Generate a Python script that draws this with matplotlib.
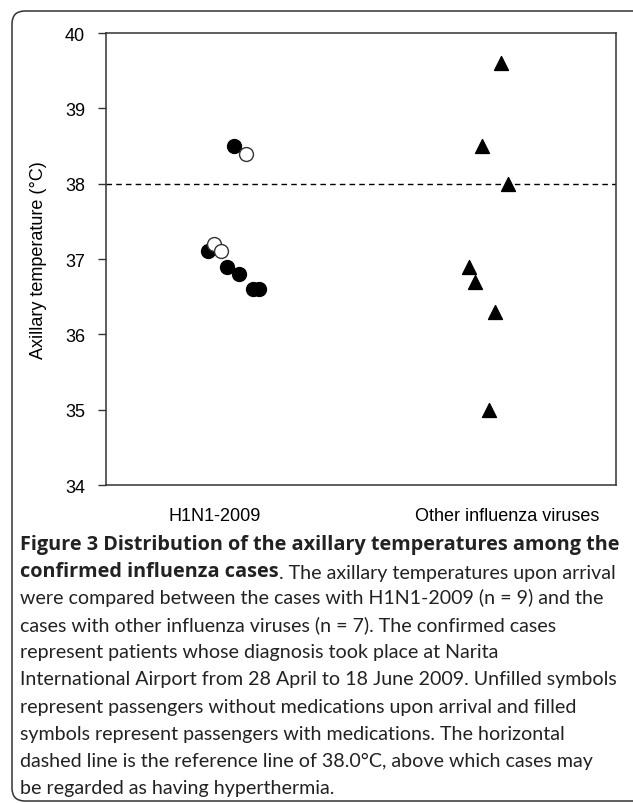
import matplotlib.pyplot as plt
from matplotlib.patches import FancyBboxPatch

# categories on the x axis
groups = ["H1N1-2009", "Other influenza viruses"]

# H1N1-2009, filled = with medications, open = without
h1_filled_x = [0.065, -0.023, 0.044, 0.085, 0.130, 0.153]
h1_filled_y = [38.5, 37.1, 36.9, 36.8, 36.6, 36.6]
h1_open_x = [0.108, -0.001, 0.022]
h1_open_y = [38.4, 37.2, 37.1]

# other influenza viruses (all filled triangles)
other_x = [-0.022, -0.086, 0.000, -0.132, -0.112, -0.044, -0.064]
other_y = [39.6, 38.5, 38.0, 36.9, 36.7, 36.3, 35.0]

threshold = 38.0
yticks = [34, 35, 36, 37, 38, 39, 40]

caption_bold = ["Figure 3 Distribution of the axillary temperatures among the",
                "confirmed influenza cases"]
caption_rest = [
    ". The axillary temperatures upon arrival",
    "were compared between the cases with H1N1-2009 (n = 9) and the",
    "cases with other influenza viruses (n = 7). The confirmed cases",
    "represent patients whose diagnosis took place at Narita",
    "International Airport from 28 April to 18 June 2009. Unfilled symbols",
    "represent passengers without medications upon arrival and filled",
    "symbols represent passengers with medications. The horizontal",
    "dashed line is the reference line of 38.0\u00b0C, above which cases may",
    "be regarded as having hyperthermia.",
]

plt.rcParams["font.family"] = ["Liberation Sans", "DejaVu Sans"]

fig = plt.figure(figsize=(6.33, 8.04), dpi=100)
ax = fig.add_axes([0.1675, 0.3955, 0.8057, 0.5622])

pos = [1, 2]
ax.scatter([pos[0] + d for d in h1_filled_x], h1_filled_y, s=100,
           color="black", marker="o", zorder=3)
ax.scatter([pos[0] + d for d in h1_open_x], h1_open_y, s=100,
           facecolor="white", edgecolor="#333333", linewidth=1.0,
           marker="o", zorder=4)
ax.scatter([pos[1] + d for d in other_x], other_y, s=100,
           color="black", marker="^", zorder=3)

ax.axhline(threshold, color="black", lw=1.0, ls=(0, (4, 3)), zorder=2)

ax.set_xlim(0.63, 2.37)
ax.set_ylim(34, 40)
ax.set_yticks(yticks)
ax.set_xticks(pos)
ax.set_xticklabels(groups, fontsize=13)
ax.tick_params(axis="x", length=0, pad=16)
ax.tick_params(axis="y", length=6, width=1.0, color="#333333",
               labelsize=13, pad=9)
for s in ax.spines.values():
    s.set_color("#333333")
    s.set_linewidth(1.1)
ax.set_ylabel("Axillary temperature (\u00b0C)", fontsize=13)
ax.yaxis.set_label_coords(-0.115, 0.5)

# caption under the chart
reg_font = ["Lato", "DejaVu Sans"]
bold_font = ["Open Sans", "DejaVu Sans"]
x0 = 20 / 633
line_h = 27.1 / 804
y_first = 1 - 550 / 804
fig.text(x0, y_first, caption_bold[0], fontsize=14.3, fontweight="bold",
         family=bold_font, va="baseline", color="#222222")
t2 = fig.text(x0, y_first - line_h, caption_bold[1], fontsize=14.3,
              fontweight="bold", family=bold_font, va="baseline",
              color="#222222")
fig.add_artist(plt.Annotation(caption_rest[0], xy=(1, 0), xycoords=t2,
                              va="bottom", ha="left", fontsize=14.1,
                              family=reg_font, color="#222222"))
for i, line in enumerate(caption_rest[1:]):
    fig.text(x0, y_first - (i + 2) * line_h, line, fontsize=14.1,
             family=reg_font, va="baseline", color="#222222")

# rounded frame around everything
frame = FancyBboxPatch((0.12, 0.02), 6.4, 7.9,
                       boxstyle="round,pad=0,rounding_size=0.13",
                       transform=fig.dpi_scale_trans, facecolor="none",
                       edgecolor="#333333", linewidth=1.1)
fig.add_artist(frame)

fig.savefig("out.png", dpi=100)
